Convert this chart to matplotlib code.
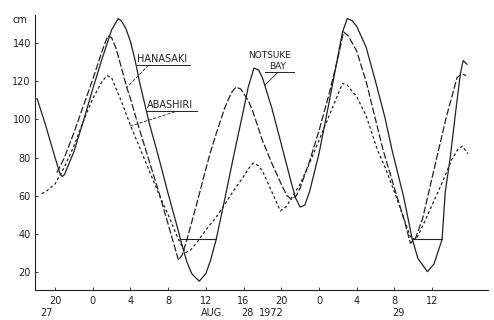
import matplotlib.pyplot as plt

# time in hours from 00h on Aug 27 1972, tide level in cm
notsuke_h = [18.1, 19, 20, 20.5, 20.75, 21, 22, 23, 24, 25, 26, 26.7, 27, 27.5, 28,
             28.5, 29, 30, 31, 32, 33, 33.3, 34, 34.5, 35.3, 36, 36.5, 37.1, 38, 39,
             40, 40.5, 41.1, 41.6, 42, 43, 43.9, 45, 45.5, 46, 46.5, 47, 48, 49, 50,
             50.5, 51, 51.5, 52, 53, 54, 55, 55.75, 57, 57.9, 58.5, 59.5, 60.2, 61.06,
             61.4, 61.9, 62.5, 63, 63.3, 63.7]
notsuke_cm = [111, 97, 80, 72, 70, 71, 83, 99, 116, 132, 147, 153, 152, 148, 141,
              131, 119, 98, 80, 61, 43, 37, 25, 19, 15, 19, 26, 37, 58, 82,
              105, 117, 127, 126, 122, 106, 89, 68, 59, 54, 55, 62, 82, 107, 133,
              146, 153, 152, 149, 138, 120, 101, 84, 59, 37, 27, 20, 24, 37,
              62, 79, 104, 124, 131, 129]

hanasaki_h = [20.2, 21, 22, 23, 24, 25, 25.6, 26, 26.5, 27, 27.6, 28, 28.7, 30, 31,
              32, 33.1, 33.5, 34, 35, 36, 36.5, 37, 38, 38.7, 39.2, 39.7, 40.5, 41,
              42, 43, 44, 44.6, 45.1, 45.6, 46, 47, 48, 49, 50, 50.6, 51.1, 52, 53,
              54, 54.8, 56, 57, 57.7, 58.2, 59, 60.5, 61.5, 62.65, 63.2, 63.6]
hanasaki_cm = [72, 80, 93, 107, 121, 136, 144, 143, 137, 128, 117, 111, 99, 78, 62,
               45, 26, 29, 37, 55, 74, 83, 91, 106, 114, 117, 116, 110, 104,
               89, 77, 66, 60, 58, 60, 64, 78, 94, 112, 132, 146, 144, 136, 120,
               100, 84, 64, 48, 35, 37, 48, 80, 101, 122, 124, 123]

abashiri_h = [18.6, 19, 20, 21, 22, 23, 24, 25, 25.5, 26, 27, 28, 29, 30, 31, 32,
              33, 33.8, 34.3, 35, 36, 37, 37.7, 39, 40, 40.5, 41, 41.5, 42, 43,
              43.9, 44.5, 45.25, 46, 47, 48, 49, 50, 50.5, 51, 52, 53, 54.2, 55,
              56, 57, 57.8, 58.4, 59, 60, 61, 62.1, 62.7, 63.2, 63.8]
abashiri_cm = [61, 62, 66, 75, 86, 99, 111, 120, 123, 122, 110, 97, 85, 73, 61, 50,
               38, 30, 31, 35, 42, 48, 53, 63, 70, 74, 77, 76, 73, 62,
               52, 54, 60, 66, 77, 89, 101, 113, 119, 118, 112, 102, 84, 75,
               62, 48, 37, 38, 44, 55, 66, 79, 84, 86, 82]

# level marks across the Notsuke troughs
level_cm = 37.3
level_spans = [(33.3, 37.1), (57.9, 61.06)]

tick_hours = [20, 24, 28, 32, 36, 40, 44, 48, 52, 56, 60]
tick_labels = ['20', '0', '4', '8', '12', '16', '20', '0', '4', '8', '12']
day_hours = [19.15, 36.8, 40.4, 43.0, 56.4]
day_labels = ['27', 'AUG.', '28', '1972', '29']
cm_ticks = [20, 40, 60, 80, 100, 120, 140]

INK = '#222222'


def plot_tides():
    plt.rcParams['font.family'] = 'DejaVu Sans'
    plt.rcParams['lines.scale_dashes'] = False
    fig = plt.figure(figsize=(4.94, 3.2), dpi=100)
    ax = fig.add_axes([0.0709, 0.0938, 0.9171, 0.8594])

    ax.plot(notsuke_h, notsuke_cm, color=INK, lw=0.9)
    ax.plot(hanasaki_h, hanasaki_cm, color=INK, lw=0.9, dashes=(5, 1.6))
    ax.plot(abashiri_h, abashiri_cm, color=INK, lw=0.9, dashes=(2, 1.8))
    for h0, h1 in level_spans:
        ax.plot([h0, h1], [level_cm, level_cm], color=INK, lw=0.8)

    ax.set_xlim(17.88, 65.94)
    ax.set_ylim(10.4, 154.9)
    ax.set_xticks(tick_hours)
    ax.set_xticklabels(tick_labels)
    ax.set_yticks(cm_ticks)
    ax.tick_params(direction='in', length=2, width=0.6, labelsize=7,
                   colors=INK)
    ax.tick_params(axis='x', pad=4.5)
    ax.tick_params(axis='y', pad=3)
    for side in ['top', 'right']:
        ax.spines[side].set_visible(False)
    for side in ['left', 'bottom']:
        ax.spines[side].set_linewidth(0.8)
        ax.spines[side].set_color(INK)

    ax.text(16.3, 152.2, 'cm', fontsize=7, color=INK, ha='center',
            va='center', clip_on=False)

    trans = ax.get_xaxis_transform()
    for h, lab in zip(day_hours, day_labels):
        ax.text(h, -0.083, lab, fontsize=7, color=INK, ha='center',
                va='center', transform=trans, clip_on=False)

    # station labels, underlined, with leader lines
    ax.text(28.7, 131.7, 'HANASAKI', fontsize=7, color=INK, va='center')
    ax.plot([28.7, 34.3], [128.4, 128.4], color=INK, lw=0.7)
    ax.annotate('', xy=(27.64, 117.0), xytext=(29.9, 128.4),
                arrowprops=dict(arrowstyle='-', color=INK, lw=0.6,
                                linestyle=(0, (2, 1.5)), shrinkA=0, shrinkB=0))

    ax.text(29.8, 107.6, 'ABASHIRI', fontsize=7, color=INK, va='center')
    ax.plot([29.7, 35.1], [104.4, 104.4], color=INK, lw=0.7)
    ax.annotate('', xy=(27.96, 96.5), xytext=(32.7, 104.0),
                arrowprops=dict(arrowstyle='-', color=INK, lw=0.6,
                                linestyle=(0, (2, 1.5)), shrinkA=0, shrinkB=0))

    ax.text(42.8, 133.6, 'NOTSUKE', fontsize=6.5, color=INK, ha='center',
            va='center')
    ax.text(43.6, 128.0, 'BAY', fontsize=6.5, color=INK, ha='center',
            va='center')
    ax.plot([42.3, 45.3], [125.0, 125.0], color=INK, lw=0.7)
    ax.annotate('', xy=(42.28, 118.1), xytext=(43.66, 124.9),
                arrowprops=dict(arrowstyle='-', color=INK, lw=0.6,
                                shrinkA=0, shrinkB=0))

    fig.savefig('out.png', dpi=100)


def main():
    plot_tides()


if __name__ == "__main__":
    main()
